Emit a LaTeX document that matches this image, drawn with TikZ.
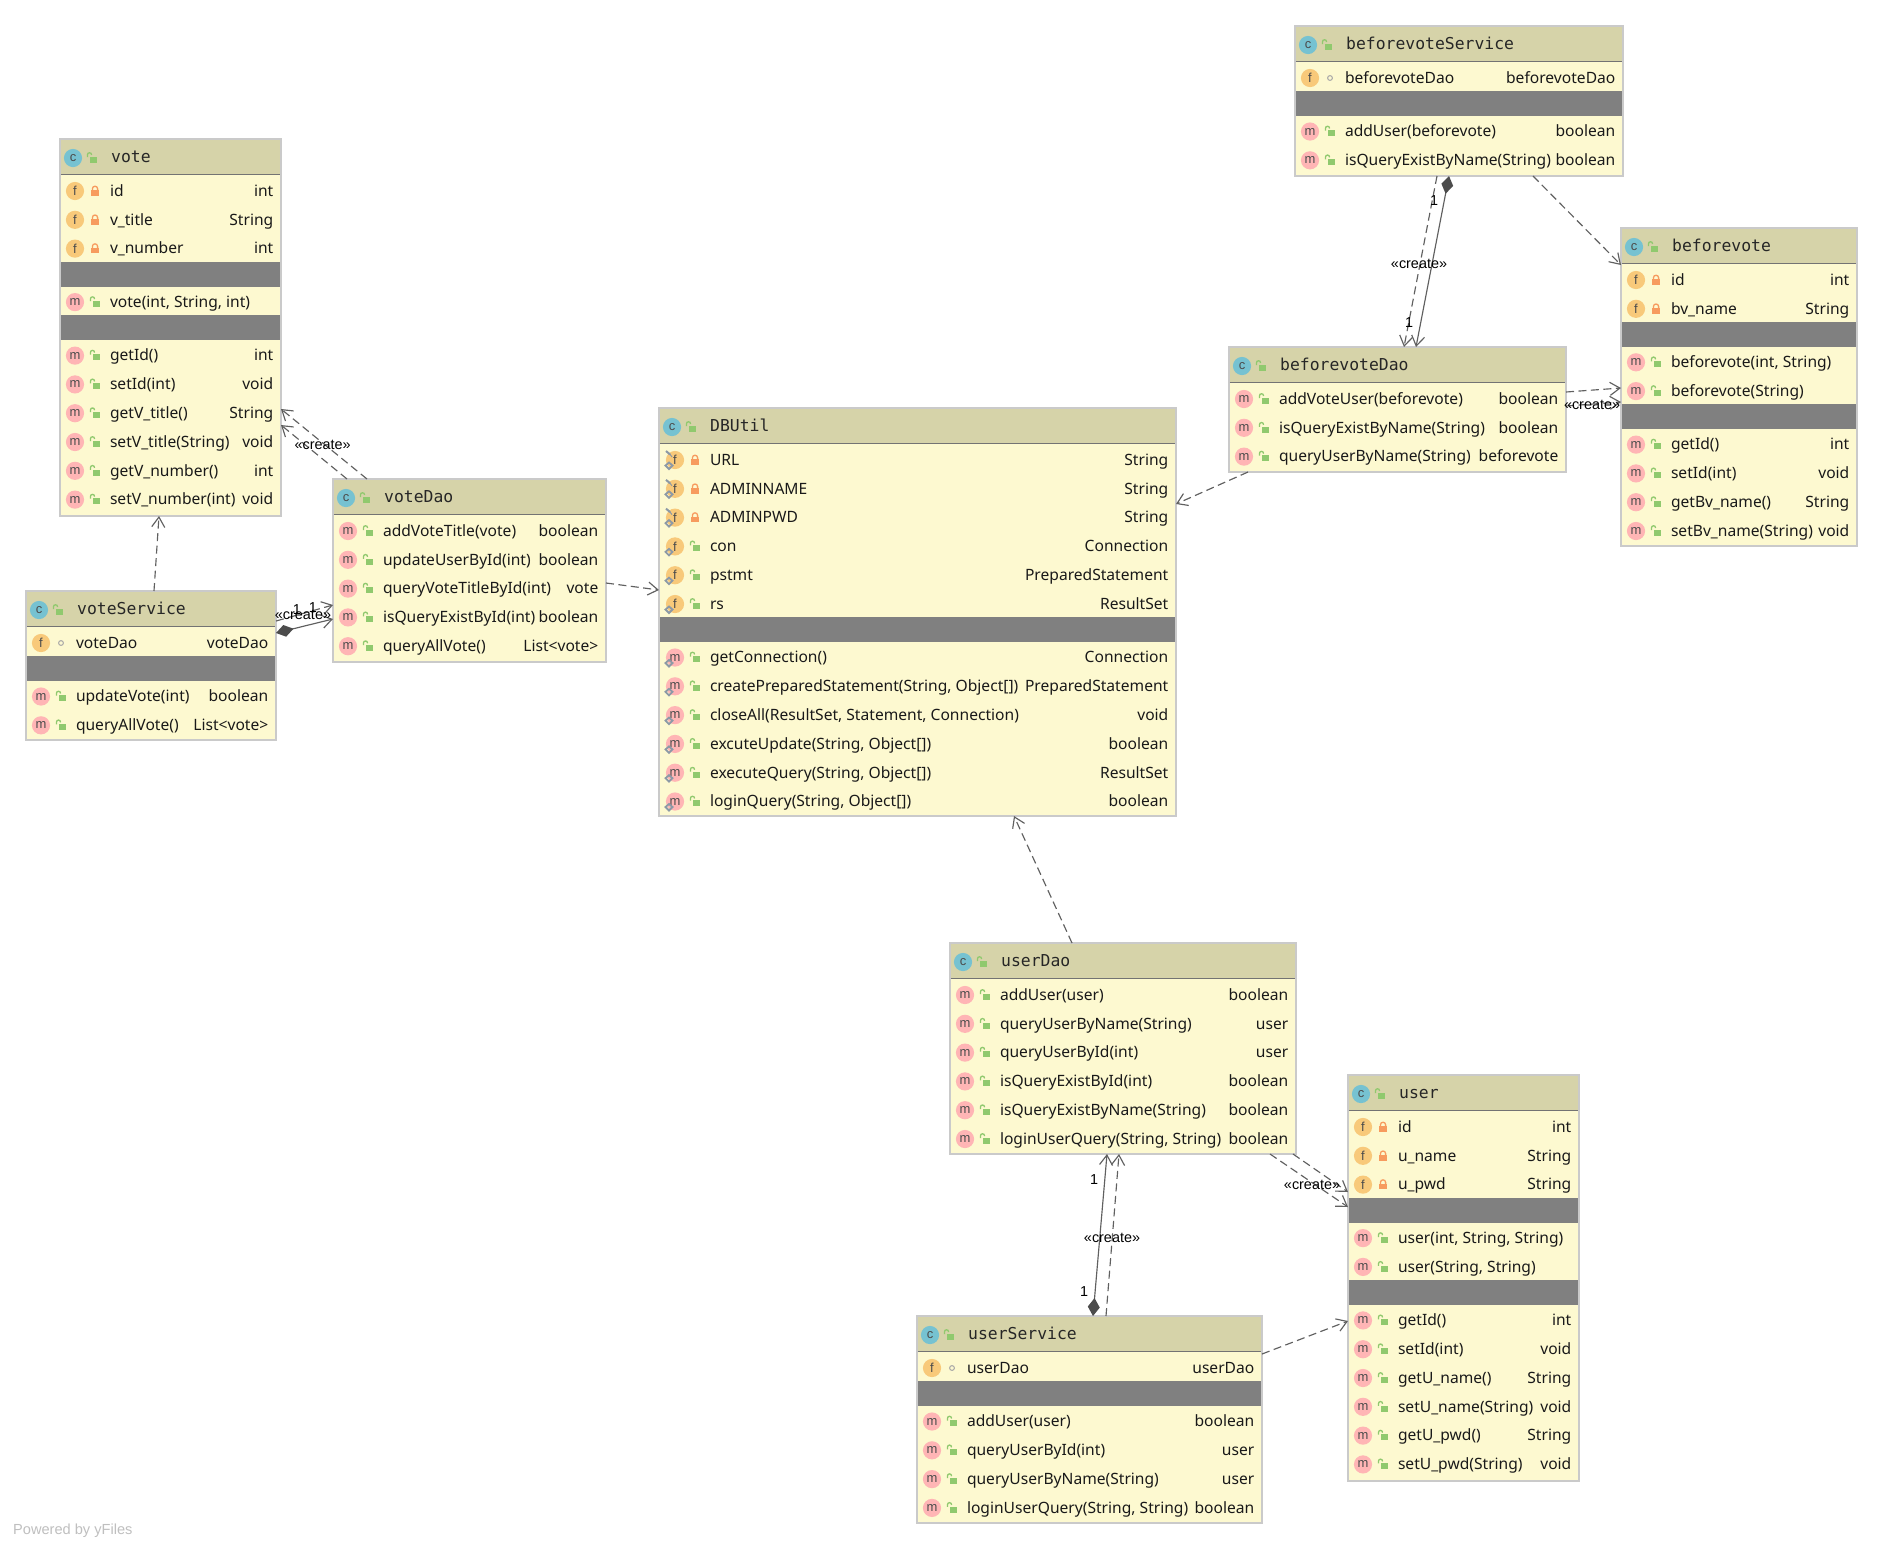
\documentclass[tikz,border=0pt]{standalone}
\usepackage{fontspec}
\setmainfont{Noto Sans}
\newfontfamily\titlefont{DejaVu Sans Mono}
\newfontfamily\labelfont{Liberation Sans}
\usetikzlibrary{arrows.meta,calc}
\definecolor{headfill}{HTML}{D6D3A9}
\definecolor{bodyfill}{HTML}{FDF9D0}
\definecolor{sepfill}{HTML}{808080}
\definecolor{edgegray}{HTML}{CACACA}
\definecolor{linegray}{HTML}{606060}
\definecolor{fcircle}{HTML}{F8C97A}
\definecolor{mcircle}{HTML}{FFB5B5}
\definecolor{ccircle}{HTML}{76C2D1}
\definecolor{lockpri}{HTML}{F79B5E}
\definecolor{lockpub}{HTML}{90C96E}
\definecolor{markgray}{HTML}{8C99A6}
\tikzset{
  classbody/.style={draw=edgegray,line width=1.1pt,fill=bodyfill,rectangle,inner sep=0pt,outer sep=0pt},
  iconnode/.style={circle,inner sep=0pt,minimum size=18.2pt,text=black!70,font=\labelfont\fontsize{13}{13}\selectfont},
  rowtext/.style={inner sep=0pt,text=black!90,font=\fontsize{15.6}{18}\selectfont},
  titletext/.style={inner sep=0pt,text=black!85,font=\titlefont\fontsize{16.4}{18}\selectfont},
  edgetext/.style={inner sep=0pt,text=black,font=\labelfont\fontsize{14.4}{16}\selectfont},
  dep/.style={draw=linegray,line width=1.15pt,dash pattern=on 8pt off 4.5pt,-{Straight Barb[length=10pt,width=13pt,line width=1.15pt]}},
  comp/.style={draw=linegray,line width=1.15pt,{Diamond[length=18pt,width=12pt,fill=black!70,line width=0pt]}-{Straight Barb[length=10pt,width=13pt,line width=1.15pt]}}
}
\newcount\rowno
\newcommand\lockPri[2]{\begin{scope}[shift={(#1,#2)}]
  \draw[lockpri,line width=1.3pt] (-2.6,0) -- (-2.6,-2.2) .. controls (-2.6,-5.6) and (2.6,-5.6) .. (2.6,-2.2) -- (2.6,0);
  \fill[lockpri] (-4,-1) rectangle (4,4.8);\end{scope}}
\newcommand\lockPub[2]{\begin{scope}[shift={(#1,#2)}]
  \draw[lockpub,line width=1.3pt] (-4.6,-1) -- (-4.6,-3) .. controls (-4.6,-6) and (-0.4,-6) .. (-0.4,-3);
  \fill[lockpub] (-2.4,-1.2) rectangle (5,4.8);\end{scope}}
\newcommand\lockPkg[2]{\draw[black!35,line width=1pt] (#1,#2) circle[radius=2.4pt];}
\newcommand\markStatic[2]{\begin{scope}[shift={(#1,#2)}]
  \draw[markgray,line width=1.8pt] (-9.5,5.5) -- (-6,2.5) -- (-2.5,5.5) -- (-6,9) -- cycle;\end{scope}}
\newcommand\markFinal[2]{\begin{scope}[shift={(#1,#2)}]
  \draw[markgray,line width=2pt] (-9,-9) -- (-5,-5.5);
  \draw[markgray,line width=1pt] (-6,-7) -- (-3,-3);\end{scope}}
% name, x, y, w, h, title
\newcommand\cls[6]{%
  \xdef\clsN{#1}\xdef\clsL{#2}\xdef\clsW{#4}\global\rowno=0
  \pgfmathsetmacro\tmpv{#3+35+17}\xdef\cy{\tmpv}%
  \node[classbody,anchor=north west,minimum width=#4pt,minimum height=#5pt] (#1) at (#2,#3) {};
  \fill[headfill] ([shift={(0.6,0.6)}]#1.north west) rectangle ([shift={(-0.6,35)}]#1.north east);
  \draw[black!55,line width=1pt] ([shift={(0.6,35)}]#1.north west) -- ([shift={(-0.6,35)}]#1.north east);
  \pgfmathsetmacro\tmpa{#2+13}\pgfmathsetmacro\tmpb{#3+19}\pgfmathsetmacro\tmpc{#2+32}\pgfmathsetmacro\tmpd{#2+51}\pgfmathsetmacro\tmpe{#3+23.6}%
  \node[iconnode,fill=ccircle] (#1-icon) at (\tmpa,\tmpb) {c};
  \lockPub{\tmpc}{\tmpb}
  \node[titletext,anchor=base west] (#1-title) at (\tmpd,\tmpe) {#6};
}
% [mark n/s/p] kind, vis, left, right
\newcommand\Row[5][n]{%
  \global\advance\rowno by 1
  \pgfmathsetmacro\tmpa{\clsL+\clsOff+15}\pgfmathsetmacro\tmpc{\clsL+\clsOff+35}\pgfmathsetmacro\tmpd{\clsL+\clsOff+49.8}\pgfmathsetmacro\tmpr{\clsL+\clsW-7.5}\pgfmathsetmacro\tmpb{\cy+5.3}%
  \node[iconnode,fill=#2circle] (\clsN-i\the\rowno) at (\tmpa,\cy) {#2};
  \ifx#1s\markStatic{\tmpa}{\cy}\fi
  \ifx#1p\markStatic{\tmpa}{\cy}\markFinal{\tmpa}{\cy}\fi
  \csname lock#3\endcsname{\tmpc}{\cy}
  \node[rowtext,anchor=base west] (\clsN-l\the\rowno) at (\tmpd,\tmpb) {#4};
  \node[rowtext,anchor=base east] (\clsN-r\the\rowno) at (\tmpr,\tmpb) {#5};
  \pgfmathsetmacro\tmpv{\cy+28.8}\xdef\cy{\tmpv}%
}
\newcommand\Sep{%
  \pgfmathsetmacro\tmpt{\cy-28.8+13}\pgfmathsetmacro\tmpu{\tmpt+25}\pgfmathsetmacro\tmpl{\clsL+0.6}\pgfmathsetmacro\tmpr{\clsL+\clsW-0.6}%
  \fill[sepfill] (\tmpl,\tmpt) rectangle (\tmpr,\tmpu);
  \pgfmathsetmacro\tmpv{\tmpu+15.5}\xdef\cy{\tmpv}%
}
\def\clsOff{0}
\begin{document}
\begin{tikzpicture}[x=1pt,y=-1pt]
\useasboundingbox (0,0) rectangle (1882,1548);
\fill[white] (0,0) rectangle (1882,1548);

\cls{vote}{60}{139}{221}{377}{vote}
\Row{f}{Pri}{id}{int}
\Row{f}{Pri}{v\_title}{String}
\Row{f}{Pri}{v\_number}{int}
\Sep
\Row{m}{Pub}{vote(int, String, int)}{}
\Sep
\Row{m}{Pub}{getId()}{int}
\Row{m}{Pub}{setId(int)}{void}
\Row{m}{Pub}{getV\_title()}{String}
\Row{m}{Pub}{setV\_title(String)}{void}
\Row{m}{Pub}{getV\_number()}{int}
\Row{m}{Pub}{setV\_number(int)}{void}

\cls{voteService}{26}{591}{250}{149}{voteService}
\Row{f}{Pkg}{voteDao}{voteDao}
\Sep
\Row{m}{Pub}{updateVote(int)}{boolean}
\Row{m}{Pub}{queryAllVote()}{List<vote>}

\cls{voteDao}{333}{479}{273}{183}{voteDao}
\Row{m}{Pub}{addVoteTitle(vote)}{boolean}
\Row{m}{Pub}{updateUserById(int)}{boolean}
\Row{m}{Pub}{queryVoteTitleById(int)}{vote}
\Row{m}{Pub}{isQueryExistById(int)}{boolean}
\Row{m}{Pub}{queryAllVote()}{List<vote>}

\def\clsOff{1}
\cls{DBUtil}{659}{408}{517}{408}{DBUtil}
\Row[p]{f}{Pri}{URL}{String}
\Row[p]{f}{Pri}{ADMINNAME}{String}
\Row[p]{f}{Pri}{ADMINPWD}{String}
\Row[s]{f}{Pub}{con}{Connection}
\Row[s]{f}{Pub}{pstmt}{PreparedStatement}
\Row[s]{f}{Pub}{rs}{ResultSet}
\Sep
\Row[s]{m}{Pub}{getConnection()}{Connection}
\Row[s]{m}{Pub}{createPreparedStatement(String, Object[])}{PreparedStatement}
\Row[s]{m}{Pub}{closeAll(ResultSet, Statement, Connection)}{void}
\Row[s]{m}{Pub}{excuteUpdate(String, Object[])}{boolean}
\Row[s]{m}{Pub}{executeQuery(String, Object[])}{ResultSet}
\Row[s]{m}{Pub}{loginQuery(String, Object[])}{boolean}
\def\clsOff{0}

\cls{beforevoteService}{1295}{26}{328}{150}{beforevoteService}
\Row{f}{Pkg}{beforevoteDao}{beforevoteDao}
\Sep
\Row{m}{Pub}{addUser(beforevote)}{boolean}
\Row{m}{Pub}{isQueryExistByName(String)}{boolean}

\cls{beforevote}{1621}{228}{236}{318}{beforevote}
\Row{f}{Pri}{id}{int}
\Row{f}{Pri}{bv\_name}{String}
\Sep
\Row{m}{Pub}{beforevote(int, String)}{}
\Row{m}{Pub}{beforevote(String)}{}
\Sep
\Row{m}{Pub}{getId()}{int}
\Row{m}{Pub}{setId(int)}{void}
\Row{m}{Pub}{getBv\_name()}{String}
\Row{m}{Pub}{setBv\_name(String)}{void}

\cls{beforevoteDao}{1229}{347}{337}{125}{beforevoteDao}
\Row{m}{Pub}{addVoteUser(beforevote)}{boolean}
\Row{m}{Pub}{isQueryExistByName(String)}{boolean}
\Row{m}{Pub}{queryUserByName(String)}{beforevote}

\cls{userDao}{950}{943}{346}{211}{userDao}
\Row{m}{Pub}{addUser(user)}{boolean}
\Row{m}{Pub}{queryUserByName(String)}{user}
\Row{m}{Pub}{queryUserById(int)}{user}
\Row{m}{Pub}{isQueryExistById(int)}{boolean}
\Row{m}{Pub}{isQueryExistByName(String)}{boolean}
\Row{m}{Pub}{loginUserQuery(String, String)}{boolean}

\cls{user}{1348}{1075}{231}{406}{user}
\Row{f}{Pri}{id}{int}
\Row{f}{Pri}{u\_name}{String}
\Row{f}{Pri}{u\_pwd}{String}
\Sep
\Row{m}{Pub}{user(int, String, String)}{}
\Row{m}{Pub}{user(String, String)}{}
\Sep
\Row{m}{Pub}{getId()}{int}
\Row{m}{Pub}{setId(int)}{void}
\Row{m}{Pub}{getU\_name()}{String}
\Row{m}{Pub}{setU\_name(String)}{void}
\Row{m}{Pub}{getU\_pwd()}{String}
\Row{m}{Pub}{setU\_pwd(String)}{void}

\cls{userService}{917}{1316}{345}{207}{userService}
\Row{f}{Pkg}{userDao}{userDao}
\Sep
\Row{m}{Pub}{addUser(user)}{boolean}
\Row{m}{Pub}{queryUserById(int)}{user}
\Row{m}{Pub}{queryUserByName(String)}{user}
\Row{m}{Pub}{loginUserQuery(String, String)}{boolean}

% connectors
\draw[dep] ([shift={(128,0)}]voteService.north west) -- ([shift={(99,377)}]vote.north west);
\draw[dep] ([shift={(34,0)}]voteDao.north west) -- ([shift={(221,270)}]vote.north west);
\draw[dep] ([shift={(14,0)}]voteDao.north west) -- ([shift={(221,286)}]vote.north west);
\draw[comp] ([shift={(250,42)}]voteService.north west) -- ([shift={(0,140)}]voteDao.north west);
\draw[dep] ([shift={(250,30)}]voteService.north west) -- ([shift={(0,126)}]voteDao.north west);
\draw[dep] ([shift={(273,104)}]voteDao.north west) -- ([shift={(0,182)}]DBUtil.north west);
\draw[dep] ([shift={(19,125)}]beforevoteDao.north west) -- ([shift={(517,96)}]DBUtil.north west);
\draw[dep] ([shift={(122,0)}]userDao.north west) -- ([shift={(355,408)}]DBUtil.north west);
\draw[dep] ([shift={(142,150)}]beforevoteService.north west) -- ([shift={(175,0)}]beforevoteDao.north west);
\draw[comp] ([shift={(154,150)}]beforevoteService.north west) -- ([shift={(187,0)}]beforevoteDao.north west);
\draw[dep] ([shift={(238,150)}]beforevoteService.north west) -- ([shift={(0,37)}]beforevote.north west);
\draw[dep] ([shift={(337,45)}]beforevoteDao.north west) -- ([shift={(0,160)}]beforevote.north west);
\draw[dep] ([shift={(337,59)}]beforevoteDao.north west) -- ([shift={(0,174)}]beforevote.north west);
\draw[dep] ([shift={(320,211)}]userDao.north west) -- ([shift={(0,132)}]user.north west);
\draw[dep] ([shift={(343,211)}]userDao.north west) -- ([shift={(0,117)}]user.north west);
\draw[comp] ([shift={(176,0)}]userService.north west) -- ([shift={(157,211)}]userDao.north west);
\draw[dep] ([shift={(189,0)}]userService.north west) -- ([shift={(169,211)}]userDao.north west);
\draw[dep] ([shift={(345,38)}]userService.north west) -- ([shift={(0,246)}]user.north west);

% edge labels
\node[edgetext] (e1) at (322.7,445) {«create»};
\node[edgetext] (e2) at (303,615) {«create»};
\node[edgetext] (e3) at (297,610) {1};
\node[edgetext] (e4) at (313,608) {1};
\node[edgetext] (e5) at (1419,264) {«create»};
\node[edgetext] (e6) at (1434,201) {1};
\node[edgetext] (e7) at (1409,323) {1};
\node[edgetext] (e8) at (1592,405) {«create»};
\node[edgetext] (e9) at (1312,1185) {«create»};
\node[edgetext] (e10) at (1112,1238) {«create»};
\node[edgetext] (e11) at (1094,1180) {1};
\node[edgetext] (e12) at (1084,1292) {1};
\node[inner sep=0pt,anchor=base west,text=black!25,font=\labelfont\fontsize{14.6}{16}\selectfont] (wm) at (13,1534) {Powered by yFiles};
\end{tikzpicture}
\end{document}
